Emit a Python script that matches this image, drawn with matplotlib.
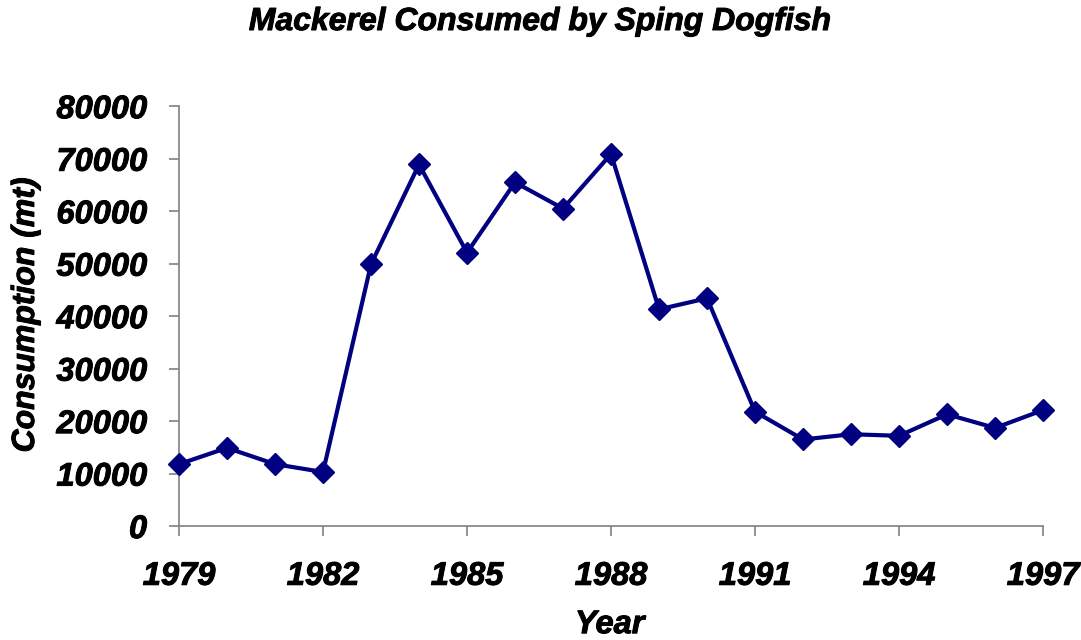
import matplotlib
matplotlib.use("Agg")
import matplotlib.pyplot as plt
import matplotlib.patheffects as pe

years = [1979, 1980, 1981, 1982, 1983, 1984, 1985, 1986, 1987, 1988,
         1989, 1990, 1991, 1992, 1993, 1994, 1995, 1996, 1997]
consumption = [11800, 14900, 11800, 10300, 49900, 68900, 52100, 65500, 60500, 70900,
               41300, 43400, 21800, 16500, 17500, 17200, 21300, 18700, 22100]
xticks = [1979, 1982, 1985, 1988, 1991, 1994, 1997]
yticks = [0, 10000, 20000, 30000, 40000, 50000, 60000, 70000, 80000]

plt.rcParams['font.family'] = ['Liberation Sans', 'DejaVu Sans']
heavy = [pe.withStroke(linewidth=0.7, foreground='black')]

fig = plt.figure(figsize=(10.81, 6.40), dpi=100)
ax = fig.add_axes([0.1656, 0.178, 0.7993, 0.656])

ax.plot(years, consumption, color='#000080', linewidth=3.0, marker='D',
        markersize=11.5, markerfacecolor='#000080', markeredgecolor='#000080',
        clip_on=False, zorder=3)

ax.set_xlim(1979, 1997)
ax.set_ylim(0, 80000)
ax.set_xticks(xticks)
ax.set_yticks(yticks)
ax.set_xticklabels([str(t) for t in xticks])
ax.set_yticklabels([str(t) for t in yticks])

for s in ['top', 'right']:
    ax.spines[s].set_visible(False)
for s in ['left', 'bottom']:
    ax.spines[s].set_color('#808080')
    ax.spines[s].set_linewidth(1.2)

ax.tick_params(axis='both', direction='out', length=7, width=1.2, color='#808080',
               labelsize=23.5)
ax.tick_params(axis='x', pad=18)
ax.tick_params(axis='y', pad=16)
for lab in ax.get_xticklabels() + ax.get_yticklabels():
    lab.set_fontweight('bold')
    lab.set_fontstyle('italic')
    lab.set_path_effects(heavy)

fig.text(0.564, 0.024, 'Year', ha='center', va='center', fontsize=23.5,
         fontweight='bold', fontstyle='italic', path_effects=heavy)
fig.text(0.024, 0.508, 'Consumption (mt)', ha='center', va='center', rotation=90,
         fontsize=23, fontweight='bold', fontstyle='italic', path_effects=heavy)
fig.text(0.4995, 0.9656, 'Mackerel Consumed by Sping Dogfish', ha='center', va='center',
         fontsize=23, fontweight='bold', fontstyle='italic', path_effects=heavy)

fig.savefig('out.png', dpi=100, facecolor='white')
